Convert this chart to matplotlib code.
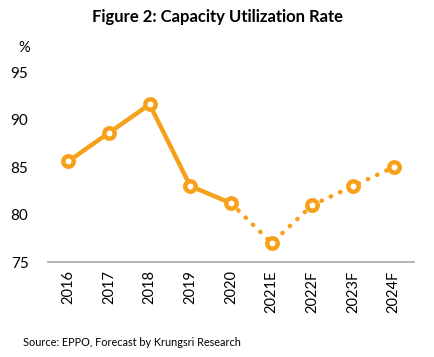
import matplotlib.pyplot as plt

years = ['2016', '2017', '2018', '2019', '2020', '2021E', '2022F', '2023F', '2024F']
rate = [85.6, 88.6, 91.6, 83.0, 81.2, 77.0, 81.0, 83.0, 85.0]
n_actual = 5  # 2016-2020 solid, rest forecast (dotted)

orange = '#F7A11A'
plt.rcParams['font.family'] = ['Lato', 'DejaVu Sans']

fig = plt.figure(figsize=(4.35, 3.57), dpi=100)
ax = fig.add_axes([0.110, 0.266, 0.842, 0.532])

x = list(range(len(years)))
ax.plot(x[:n_actual], rate[:n_actual], color=orange, lw=3.2, solid_capstyle='round', zorder=2)
ax.plot(x[n_actual - 1:], rate[n_actual - 1:], color=orange, lw=3.2,
        linestyle=(0, (0.1, 2.2)), dash_capstyle='round', zorder=2)
ax.plot(x, rate, linestyle='none', marker='o', markersize=7.5, markerfacecolor='white',
        markeredgecolor=orange, markeredgewidth=3.2, zorder=3)

ax.set_xlim(-0.5, len(years) - 0.5)
ax.set_ylim(75, 95)
ax.set_yticks([75, 80, 85, 90, 95])
ax.set_xticks(x)
ax.set_xticklabels(years, rotation=90, fontsize=10.5)
ax.tick_params(axis='y', labelsize=11, length=0, pad=14)
ax.tick_params(axis='x', length=0, pad=6)
for s in ['top', 'right', 'left']:
    ax.spines[s].set_visible(False)
ax.spines['bottom'].set_color('#A6A6A6')
ax.spines['bottom'].set_linewidth(1.2)

fig.text(0.50, 0.952, 'Figure 2: Capacity Utilization Rate', ha='center', va='center',
         fontsize=12, fontweight='bold')
fig.text(0.043, 0.865, '%', ha='left', va='center', fontsize=10.5)
fig.text(0.052, 0.04, 'Source: EPPO, Forecast by Krungsri Research', ha='left', va='center',
         fontsize=7.8)

plt.savefig('out.png', dpi=100)
